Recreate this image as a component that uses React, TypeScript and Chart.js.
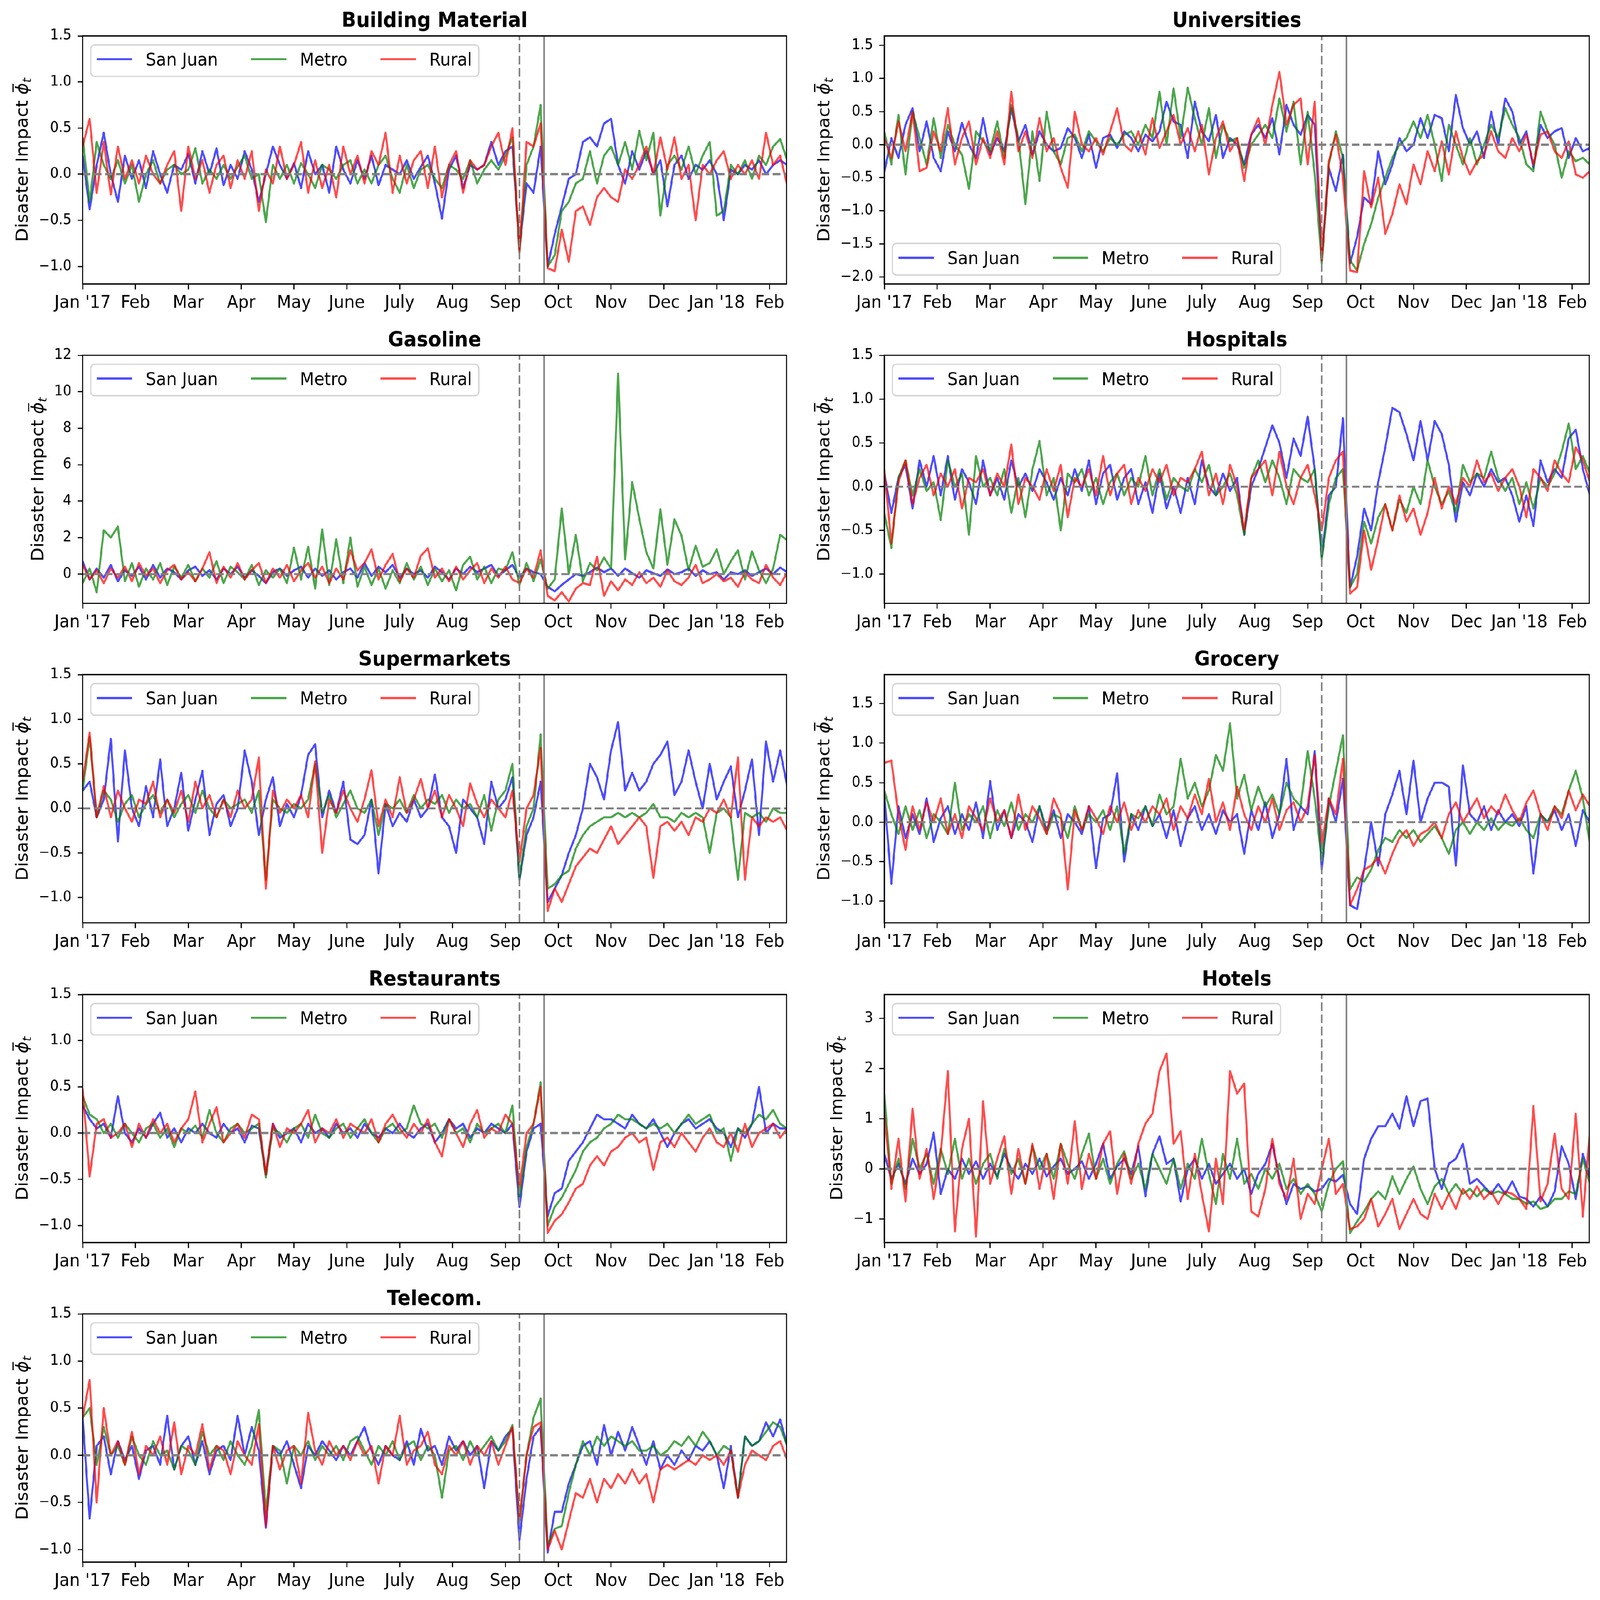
import { useEffect, useRef } from "react";
import Chart from "chart.js/auto";

// days since 1 Jan 2017, one sample every 4 days
const days = Array.from({ length: 101 }, (_, i) => i * 4);

const xTickDays = [0, 30, 60, 90, 120, 150, 180, 210, 240, 270, 300, 330, 360, 390];
const xTickLabels = ["Jan '17", "Feb", "Mar", "Apr", "May", "June", "July", "Aug", "Sep", "Oct", "Nov", "Dec", "Jan '18", "Feb"];
const irmaDay = 248;
const mariaDay = 262;

const seriesNames = ["San Juan", "Metro", "Rural"];

const buildingSanJuan = [
  0.2, -0.38, 0.1, 0.45, 0.0, -0.3, 0.2, -0.05, 0.15, -0.15,
  0.25, 0.0, -0.2, 0.1, 0.05, 0.22, -0.1, 0.25, 0.0, 0.28,
  -0.12, 0.1, -0.05, 0.25, 0.05, -0.3, 0.0, 0.3, 0.1, -0.05,
  0.12, -0.15, 0.25, 0.0, 0.1, -0.2, 0.3, 0.05, -0.1, 0.15,
  -0.05, 0.2, -0.12, 0.1, 0.05, 0.0, 0.15, -0.05, 0.08, 0.2,
  -0.1, -0.48, 0.05, 0.2, -0.15, 0.1, 0.05, 0.1, 0.35, 0.1,
  0.25, 0.3, -0.8, -0.1, -0.2, 0.3, -1.0, -0.65, -0.35, -0.05,
  0.0, 0.35, 0.4, 0.3, 0.55, 0.6, 0.1, -0.1, 0.25, 0.05,
  0.25, 0.0, 0.15, -0.35, 0.1, 0.2, -0.05, 0.1, 0.05, 0.15,
  0.0, -0.5, 0.05, 0.0, 0.1, 0.05, 0.15, 0.0, 0.1, 0.15,
  0.1,
];
const buildingMetro = [
  0.4, -0.3, 0.35, 0.1, -0.05, 0.15, -0.1, 0.1, -0.3, 0.0,
  0.15, -0.1, 0.05, 0.1, 0.0, 0.05, 0.28, -0.1, 0.05, -0.05,
  0.1, -0.05, 0.08, 0.2, -0.05, 0.0, -0.52, 0.1, -0.05, 0.1,
  -0.1, 0.12, 0.0, -0.15, 0.1, 0.05, -0.05, 0.1, 0.15, -0.1,
  0.05, -0.1, 0.1, 0.2, -0.05, -0.2, 0.1, -0.15, 0.05, 0.1,
  -0.05, -0.15, 0.1, 0.05, -0.05, 0.15, -0.1, 0.05, 0.15, 0.05,
  0.2, 0.4, -0.85, 0.1, 0.3, 0.75, -1.0, -0.88, -0.4, -0.3,
  -0.1, -0.05, 0.25, -0.1, 0.2, 0.3, 0.1, 0.35, 0.05, 0.47,
  0.15, 0.45, -0.45, 0.1, 0.2, 0.05, 0.3, 0.0, 0.2, 0.35,
  -0.45, -0.4, 0.1, 0.0, 0.15, -0.05, 0.2, 0.1, 0.3, 0.38,
  0.15,
];
const buildingRural = [
  0.3, 0.6, -0.2, 0.35, -0.22, 0.3, -0.05, 0.15, -0.1, 0.2,
  0.0, -0.1, 0.1, 0.25, -0.4, 0.3, -0.05, 0.15, -0.2, 0.1,
  0.2, -0.15, 0.15, -0.05, 0.25, -0.4, 0.05, -0.1, 0.3, -0.05,
  0.1, 0.35, -0.2, 0.15, -0.15, 0.1, -0.25, 0.3, 0.0, 0.2,
  -0.1, 0.25, 0.1, 0.45, -0.2, 0.2, -0.1, 0.15, 0.25, -0.15,
  0.3, -0.25, 0.1, 0.25, -0.2, 0.15, 0.05, 0.1, 0.3, 0.45,
  0.1, 0.5, -0.85, 0.35, 0.3, 0.55, -1.02, -1.05, -0.6, -0.95,
  -0.4, -0.35, -0.55, -0.25, -0.15, -0.25, -0.3, 0.05, -0.05, 0.1,
  0.3, 0.0, 0.4, 0.05, 0.4, -0.05, 0.1, -0.5, 0.1, 0.0,
  0.15, 0.25, -0.05, 0.1, 0.0, 0.15, -0.05, 0.45, 0.1, 0.2,
  -0.12,
];

const universitiesSanJuan = [
  -0.42, 0.1, -0.2, 0.3, 0.55, -0.1, 0.35, -0.2, -0.4, 0.2,
  -0.1, 0.33, 0.0, -0.2, 0.4, -0.15, 0.1, -0.1, 0.55, 0.05,
  0.3, -0.15, 0.2, 0.0, -0.1, -0.05, 0.25, 0.1, -0.2, 0.15,
  -0.35, 0.1, 0.15, -0.05, 0.2, 0.1, -0.1, 0.15, 0.05, 0.2,
  0.65, 0.35, 0.3, -0.2, 0.65, 0.2, 0.05, 0.45, -0.2, 0.1,
  0.0, -0.3, 0.15, 0.3, 0.1, 0.4, -0.15, 0.6, 0.3, 0.15,
  0.45, 0.3, -1.75, -0.35, -0.7, -0.15, -1.8, -1.4, -0.8, -0.9,
  -0.1, -0.6, -0.3, 0.1, -0.1, 0.0, 0.4, 0.1, 0.45, 0.4,
  -0.1, 0.75, 0.25, 0.0, 0.2, -0.2, 0.5, 0.0, 0.7, 0.5,
  0.0, 0.2, -0.35, 0.3, 0.1, 0.2, 0.25, -0.2, 0.1, -0.1,
  -0.05,
];
const universitiesMetro = [
  0.2, -0.3, 0.45, -0.45, 0.5, 0.1, -0.3, 0.4, -0.2, 0.3,
  0.0, -0.15, -0.67, 0.2, 0.05, -0.1, 0.35, -0.2, 0.6, 0.1,
  -0.9, 0.2, -0.55, 0.5, -0.1, -0.3, 0.1, 0.15, -0.1, 0.2,
  0.05, -0.1, 0.1, 0.0, 0.15, 0.2, 0.0, 0.3, 0.1, 0.8,
  0.0, 0.85, 0.1, 0.86, 0.4, 0.0, 0.55, -0.2, 0.3, 0.05,
  0.1, -0.35, 0.0, 0.15, 0.3, 0.1, 0.7, 0.2, 0.65, -0.3,
  0.5, -0.45, -1.8, -0.3, 0.2, -0.2, -1.75, -1.9, -1.5, -1.2,
  -0.8, -0.5, -0.2, 0.0, 0.1, 0.35, 0.1, 0.45, 0.0, -0.55,
  0.3, 0.0, -0.3, 0.1, -0.3, 0.0, 0.3, 0.1, 0.55, 0.3,
  0.1, -0.3, -0.4, 0.5, 0.2, 0.0, -0.5, -0.1, -0.25, -0.2,
  -0.3,
];
const universitiesRural = [
  0.1, -0.2, 0.35, -0.1, 0.5, -0.4, -0.35, 0.2, -0.1, 0.55,
  -0.3, 0.1, 0.35, -0.3, 0.1, -0.2, 0.2, -0.3, 0.8, -0.1,
  0.2, -0.2, 0.4, -0.1, 0.1, -0.35, -0.65, 0.5, 0.0, -0.1,
  0.1, -0.15, 0.2, 0.55, 0.0, -0.1, 0.2, -0.15, 0.4, -0.05,
  0.2, 0.45, 0.0, 0.25, -0.1, 0.3, -0.45, 0.1, 0.35, -0.1,
  0.1, -0.55, 0.15, 0.4, 0.0, 0.6, 1.1, 0.3, 0.6, 0.7,
  -0.3, 0.65, -1.75, -0.25, 0.15, -0.5, -1.9, -1.93, -0.4, -0.95,
  -0.5, -1.35, -1.05, -0.6, -0.9, -0.3, -0.6, -0.1, -0.4, 0.05,
  -0.45, 0.2, -0.2, -0.45, -0.25, -0.15, 0.2, -0.1, -0.2, 0.1,
  -0.1, 0.15, -0.3, 0.15, 0.2, -0.1, -0.2, 0.05, -0.45, -0.5,
  -0.4,
];

const gasolineSanJuan = [
  0.7, -0.3, 0.3, -0.2, 0.5, -0.4, 0.2, -0.1, 0.4, -0.3,
  0.5, -0.2, 0.3, 0.1, -0.3, 0.2, 0.4, -0.1, 0.2, -0.3,
  0.3, 0.0, 0.4, -0.2, 0.2, -0.1, -0.5, 0.1, 0.3, -0.1,
  0.2, 0.4, -0.2, 0.3, -0.1, 0.2, -0.3, 0.1, 0.3, -0.2,
  0.6, -0.1, 0.4, 0.1, 0.5, -0.2, 0.3, 0.0, 0.2, -0.2,
  0.4, 0.1, -0.3, 0.3, 0.0, 0.4, 0.1, 0.3, 0.5, -0.1,
  0.2, 0.5, -0.2, 0.3, 0.1, 0.0, -0.7, -0.95, -0.6, -0.3,
  0.0, -0.1, 0.1, 0.35, 0.1, 0.3, -0.1, 0.3, 0.05, -0.2,
  0.2, 0.05, -0.1, 0.25, 0.0, 0.1, 0.3, -0.1, 0.2, 0.0,
  0.1, -0.3, 0.1, 0.0, 0.2, -0.1, 0.1, 0.3, 0.0, 0.35,
  0.1,
];
const gasolineMetro = [
  -0.5, 0.3, -1.0, 2.4, 2.0, 2.6, -0.4, 0.6, -0.7, 0.3,
  -0.3, 0.6, -0.6, 0.4, -0.2, 0.5, -0.4, 0.3, -0.2, 0.7,
  -0.5, 0.4, 0.1, -0.3, 0.5, -0.6, 0.2, -0.2, 0.3, -0.5,
  1.45, -0.3, 1.5, -0.8, 2.45, -0.6, 1.9, -0.5, 2.0, -0.7,
  0.4, -0.6, 0.3, -0.8, 0.2, -0.5, 0.6, -0.3, 0.4, -0.6,
  0.3, -0.4, 0.2, -0.9, 0.5, 0.95, -0.3, 0.4, -0.5, 0.3,
  0.2, 1.2, -0.6, 0.6, -0.4, 0.8, -0.8, -0.3, 3.6, 0.0,
  2.15, -0.4, 0.6, 0.2, 0.9, 0.3, 11.0, 0.8, 5.05, 3.05,
  1.2, 0.3, 3.55, 0.5, 3.0, 2.1, 0.2, 1.55, 0.4, 0.6,
  1.35, 0.0, 0.7, 1.3, -0.3, 1.25, 0.2, -0.5, 0.3, 2.15,
  1.85,
];
const gasolineRural = [
  0.5, -0.3, 0.2, -0.5, 0.3, -0.2, 0.4, -0.4, 0.6, -0.1,
  0.3, -0.5, 0.2, 0.5, -0.3, 0.1, -0.4, 0.3, 1.2, -0.5,
  0.4, -0.2, 0.6, -0.3, 0.2, 0.6, -0.5, 0.3, -0.2, 0.5,
  -0.4, 0.2, 0.6, -0.2, 0.4, -0.5, 0.3, -0.3, 1.3, 0.2,
  0.6, 1.35, -0.3, 0.5, 1.1, -0.4, 0.3, -0.2, 1.0, 1.4,
  -0.2, 0.3, -0.4, 0.4, -0.3, 0.2, 0.6, -0.5, 0.3, -0.2,
  0.4, -0.3, -0.5, 0.3, -0.2, 1.3, -1.2, -1.45, -1.0, -1.5,
  -0.8, -0.5, -0.6, 0.95, -1.2, -0.4, -0.9, -0.3, -0.6, 0.1,
  -0.5, -0.2, -0.7, 0.2, -0.4, -0.6, -0.2, 0.5, -0.5, -0.3,
  0.0, -0.4, -0.2, -0.7, 0.1, -0.3, -0.5, 0.5, -0.2, -0.6,
  0.1,
];

const hospitalsSanJuan = [
  0.15, -0.3, 0.1, 0.25, -0.25, 0.3, 0.0, 0.35, -0.1, 0.35,
  -0.15, 0.2, 0.05, -0.2, 0.3, -0.1, 0.1, -0.15, 0.3, 0.0,
  0.15, -0.05, 0.2, 0.05, -0.15, 0.1, -0.1, 0.2, -0.05, 0.3,
  -0.2, 0.15, 0.25, -0.15, 0.1, 0.2, -0.2, 0.05, -0.3, 0.15,
  -0.25, 0.0, -0.3, 0.1, -0.2, 0.3, 0.0, -0.1, 0.15, -0.05,
  0.1, -0.55, 0.0, 0.2, 0.45, 0.7, 0.5, 0.1, 0.55, 0.35,
  0.8, 0.2, -0.8, -0.1, 0.0, 0.78, -1.15, -0.8, -0.25, -0.5,
  0.05, 0.45, 0.9, 0.85, 0.6, 0.3, 0.75, 0.3, 0.75, 0.6,
  0.25, -0.4, 0.05, -0.1, 0.15, 0.0, 0.2, 0.05, 0.1, -0.1,
  -0.4, -0.1, -0.45, 0.3, 0.05, 0.2, 0.1, 0.55, 0.65, 0.2,
  -0.1,
];
const hospitalsMetro = [
  -0.3, -0.7, 0.1, 0.3, -0.1, 0.2, -0.05, 0.05, -0.38, 0.3,
  0.0, 0.15, -0.55, 0.35, 0.0, 0.1, -0.1, 0.2, -0.3, 0.1,
  -0.35, 0.2, 0.52, -0.1, 0.1, -0.5, 0.15, 0.05, 0.2, -0.1,
  0.1, -0.2, 0.05, 0.15, -0.1, 0.1, 0.0, 0.35, -0.1, 0.2,
  -0.15, 0.1, 0.0, -0.05, 0.2, 0.05, 0.25, -0.1, 0.0, 0.15,
  -0.1, -0.55, 0.1, 0.3, 0.05, 0.3, 0.1, -0.2, 0.2, 0.1,
  0.05, 0.2, -0.83, -0.2, 0.1, 0.2, -1.15, -1.0, -0.4, -0.65,
  -0.35, -0.2, -0.5, -0.15, -0.3, 0.0, -0.2, 0.3, 0.0, -0.2,
  -0.05, -0.3, 0.25, 0.05, 0.15, 0.1, 0.4, 0.1, -0.05, 0.1,
  -0.2, 0.05, -0.25, 0.1, 0.0, 0.15, 0.4, 0.72, 0.2, 0.35,
  0.15,
];
const hospitalsRural = [
  0.2, -0.65, 0.05, 0.3, -0.2, 0.1, 0.25, -0.1, 0.15, 0.0,
  0.2, -0.25, 0.1, 0.05, 0.2, -0.1, 0.15, 0.0, 0.48, -0.2,
  0.1, 0.0, -0.15, 0.2, -0.05, 0.25, -0.35, 0.1, 0.0, 0.2,
  -0.1, 0.35, -0.1, 0.15, 0.25, -0.2, 0.1, -0.05, 0.2, 0.05,
  0.25, -0.1, 0.1, 0.05, 0.2, 0.4, -0.1, 0.15, -0.2, 0.25,
  0.0, -0.5, 0.1, 0.2, 0.3, -0.1, 0.4, 0.0, -0.2, 0.1,
  0.25, -0.1, -0.5, 0.1, 0.3, 0.4, -1.22, -1.15, -0.5, -0.95,
  -0.6, -0.2, -0.5, -0.1, -0.4, -0.25, -0.55, -0.3, 0.1, -0.25,
  0.0, -0.2, 0.1, 0.0, 0.3, 0.05, 0.15, -0.05, 0.1, 0.2,
  0.0, -0.35, 0.2, 0.1, -0.05, 0.3, 0.15, 0.05, 0.45, 0.3,
  0.05,
];

const supermarketsSanJuan = [
  0.2, 0.3, -0.1, 0.1, 0.78, -0.37, 0.65, 0.0, -0.2, 0.25,
  -0.1, 0.55, -0.2, 0.0, 0.4, -0.25, 0.1, 0.42, -0.3, 0.05,
  0.15, -0.2, 0.0, 0.65, 0.3, -0.3, 0.1, 0.35, -0.2, 0.05,
  -0.1, 0.15, 0.6, 0.72, -0.1, 0.2, -0.05, 0.3, -0.35, -0.4,
  -0.3, 0.1, -0.73, 0.05, -0.2, -0.05, -0.15, 0.1, -0.1, 0.0,
  0.38, -0.1, -0.2, -0.5, 0.1, 0.0, -0.1, -0.4, 0.3, 0.0,
  0.1, 0.35, -0.8, -0.3, -0.1, 0.3, -1.05, -0.9, -0.75, -0.5,
  -0.3, 0.0, 0.5, 0.35, 0.1, 0.65, 0.97, 0.2, 0.4, 0.2,
  0.3, 0.5, 0.6, 0.75, 0.15, 0.3, 0.65, 0.3, 0.0, 0.5,
  0.1, 0.3, 0.47, -0.1, 0.2, 0.55, -0.3, 0.75, 0.3, 0.65,
  0.25,
];
const supermarketsMetro = [
  0.2, 0.8, -0.1, 0.2, 0.1, -0.15, 0.05, 0.15, -0.1, 0.05,
  0.15, -0.05, 0.1, -0.1, 0.05, 0.15, -0.05, 0.2, 0.0, -0.1,
  0.1, 0.0, 0.05, 0.1, -0.05, 0.2, -0.8, 0.1, 0.0, -0.05,
  0.05, 0.0, 0.1, 0.5, -0.05, 0.15, -0.1, 0.05, 0.2, 0.0,
  -0.05, 0.1, -0.3, 0.05, 0.0, 0.1, -0.05, 0.15, 0.0, 0.1,
  0.05, 0.15, -0.05, 0.1, 0.0, 0.05, -0.1, 0.15, -0.25, 0.1,
  0.2, 0.5, -0.8, -0.2, 0.0, 0.83, -0.9, -0.85, -0.75, -0.7,
  -0.45, -0.3, -0.2, -0.15, -0.1, -0.1, -0.05, -0.1, -0.05, -0.1,
  -0.05, 0.05, -0.1, -0.1, -0.15, -0.05, -0.1, -0.05, -0.1, -0.5,
  -0.05, 0.0, -0.1, -0.8, -0.05, -0.1, -0.05, -0.15, 0.0, -0.05,
  -0.05,
];
const supermarketsRural = [
  0.3, 0.85, -0.1, 0.25, -0.1, 0.2, 0.0, -0.15, 0.1, 0.05,
  0.3, -0.1, 0.1, -0.05, 0.2, -0.15, 0.3, 0.0, 0.15, -0.1,
  0.1, -0.1, 0.2, 0.0, 0.1, 0.57, -0.9, 0.2, -0.05, 0.1,
  0.0, 0.15, -0.1, 0.53, -0.5, 0.1, -0.05, 0.2, 0.0, -0.15,
  0.1, 0.43, -0.2, 0.1, -0.1, 0.35, -0.05, 0.1, 0.33, 0.0,
  0.2, -0.1, 0.15, 0.0, -0.2, 0.28, 0.05, -0.1, 0.1, 0.0,
  -0.1, 0.2, -0.6, 0.0, 0.15, 0.68, -1.15, -0.9, -1.05, -0.85,
  -0.65, -0.55, -0.45, -0.5, -0.35, -0.2, -0.4, -0.3, -0.2, -0.1,
  -0.2, -0.78, -0.2, -0.15, -0.25, -0.15, -0.3, -0.1, -0.15, 0.0,
  -0.05, 0.1, -0.1, 0.57, -0.8, -0.1, -0.2, -0.1, -0.15, -0.1,
  -0.25,
];

const grocerySanJuan = [
  0.35, -0.78, 0.2, -0.2, 0.1, -0.15, 0.3, -0.25, 0.05, 0.2,
  -0.15, 0.1, -0.1, 0.25, -0.2, 0.52, -0.1, 0.15, -0.2, 0.1,
  0.0, -0.25, 0.2, -0.1, 0.15, -0.2, 0.1, 0.0, -0.15, 0.2,
  -0.58, 0.05, 0.1, 0.62, -0.5, 0.1, -0.1, 0.2, -0.05, 0.1,
  -0.2, 0.15, -0.3, 0.05, 0.2, -0.1, 0.1, -0.15, 0.15, 0.0,
  0.1, -0.4, 0.15, -0.1, 0.25, -0.2, 0.1, 0.8, -0.1, 0.2,
  0.1, 0.9, -0.6, 0.3, 0.0, 0.55, -1.05, -1.1, -0.6, 0.0,
  -0.55, 0.1, 0.35, 0.65, 0.1, 0.78, 0.0, 0.3, 0.5, 0.5,
  0.45, -0.55, 0.72, 0.1, 0.0, 0.2, -0.1, 0.15, 0.0, 0.1,
  -0.05, 0.2, -0.65, 0.1, 0.0, 0.15, -0.1, 0.1, -0.3, 0.15,
  0.0,
];
const groceryMetro = [
  0.4, 0.1, -0.15, 0.2, -0.1, 0.15, -0.2, 0.1, 0.0, -0.15,
  0.5, -0.1, 0.1, 0.0, 0.2, -0.2, 0.15, -0.05, 0.25, -0.1,
  0.1, 0.0, 0.2, -0.15, 0.1, 0.05, -0.2, 0.2, -0.1, 0.1,
  0.0, 0.15, -0.1, 0.2, -0.4, 0.1, 0.05, 0.2, -0.05, 0.35,
  0.1, 0.2, 0.8, 0.3, 0.5, 0.2, 0.4, 0.85, 0.65, 1.25,
  0.3, 0.6, 0.15, 0.45, 0.2, 0.35, 0.1, 0.5, 0.3, 0.2,
  0.9, 0.3, -0.5, 0.2, 0.65, 1.1, -0.85, -0.7, -0.75, -0.6,
  -0.35, -0.2, -0.25, -0.1, -0.2, -0.1, -0.25, -0.15, -0.05, -0.2,
  -0.4, -0.1, 0.0, -0.15, 0.0, -0.1, 0.05, -0.1, 0.0, -0.05,
  0.05, -0.1, -0.2, 0.1, 0.0, 0.2, 0.1, 0.4, 0.65, 0.3,
  -0.27,
];
const groceryRural = [
  0.75, 0.78, 0.1, -0.35, 0.2, -0.1, 0.25, 0.0, 0.3, -0.15,
  0.1, -0.2, 0.2, 0.05, -0.1, 0.3, 0.0, 0.15, -0.2, 0.35,
  -0.1, 0.2, 0.05, -0.15, 0.3, 0.1, -0.85, 0.15, -0.1, 0.2,
  0.05, -0.15, 0.2, 0.0, 0.25, -0.1, 0.15, 0.0, 0.2, 0.1,
  0.3, -0.1, 0.2, 0.05, 0.35, 0.1, 0.55, 0.0, 0.25, -0.1,
  0.45, 0.1, -0.1, 0.2, 0.0, 0.3, -0.1, 0.15, 0.25, 0.0,
  0.2, 0.85, -0.3, 0.3, 0.1, 0.8, -1.05, -0.85, -0.6, -0.55,
  -0.45, -0.65, -0.4, -0.2, -0.1, -0.3, -0.15, -0.1, 0.0, -0.2,
  0.1, 0.25, 0.0, 0.15, 0.3, 0.05, 0.2, 0.1, 0.35, 0.15,
  0.0, 0.25, 0.4, 0.1, -0.1, 0.2, 0.05, 0.4, 0.15, 0.35,
  0.2,
];

const restaurantsSanJuan = [
  0.3, 0.15, 0.05, 0.1, -0.05, 0.4, 0.0, -0.1, 0.05, -0.05,
  0.1, 0.22, -0.05, 0.05, -0.1, 0.05, 0.0, 0.1, 0.0, -0.05,
  0.1, 0.0, 0.05, -0.1, 0.08, 0.05, -0.45, 0.1, -0.05, 0.0,
  0.05, -0.1, 0.1, 0.0, 0.05, -0.05, 0.1, 0.0, 0.05, -0.05,
  0.1, 0.0, -0.05, 0.05, 0.0, 0.1, 0.0, -0.05, 0.05, 0.1,
  -0.1, 0.0, 0.15, 0.05, 0.1, -0.05, 0.05, 0.0, 0.1, 0.05,
  0.0, 0.1, -0.8, -0.2, 0.05, 0.1, -0.9, -0.65, -0.6, -0.3,
  -0.2, -0.1, 0.05, 0.2, 0.15, 0.15, 0.1, 0.05, 0.2, 0.1,
  0.05, 0.15, 0.0, -0.15, 0.0, 0.1, 0.15, 0.05, 0.1, 0.15,
  0.05, 0.0, -0.15, 0.05, -0.05, 0.1, 0.5, 0.0, 0.1, 0.05,
  0.05,
];
const restaurantsMetro = [
  0.4, 0.2, 0.15, 0.0, 0.1, -0.05, 0.1, 0.0, -0.1, 0.05,
  0.1, -0.05, 0.05, -0.15, 0.05, 0.0, 0.08, -0.05, 0.25, 0.0,
  -0.1, 0.05, 0.1, 0.0, 0.05, 0.1, -0.48, 0.05, 0.0, -0.1,
  0.05, 0.1, -0.05, 0.2, 0.0, -0.05, 0.05, 0.1, -0.05, 0.05,
  0.15, 0.0, -0.1, 0.05, 0.1, 0.0, 0.05, 0.3, 0.1, 0.05,
  0.1, -0.05, 0.15, 0.0, 0.05, -0.1, 0.1, 0.0, 0.05, 0.1,
  0.0, 0.3, -0.7, -0.15, 0.1, 0.55, -1.0, -0.8, -0.7, -0.55,
  -0.4, -0.2, -0.1, -0.05, 0.05, 0.1, 0.2, 0.15, 0.15, 0.1,
  0.05, 0.1, 0.05, 0.1, 0.0, 0.1, 0.2, 0.1, 0.15, 0.2,
  0.0, 0.05, -0.3, 0.05, 0.0, 0.1, 0.2, 0.15, 0.25, 0.1,
  0.05,
];
const restaurantsRural = [
  0.48, -0.47, 0.1, 0.15, -0.05, 0.0, 0.1, -0.15, 0.1, -0.05,
  0.15, 0.0, 0.1, -0.1, 0.05, 0.15, 0.45, -0.1, 0.1, 0.28,
  -0.1, 0.0, 0.1, -0.05, 0.2, 0.15, -0.45, 0.1, -0.15, 0.05,
  0.0, 0.1, 0.25, -0.1, 0.05, 0.0, 0.15, -0.05, 0.1, 0.05,
  0.0, 0.15, -0.1, 0.1, 0.2, 0.05, -0.05, 0.1, 0.0, 0.15,
  -0.1, -0.25, 0.15, 0.0, -0.15, 0.1, 0.25, -0.05, 0.05, 0.0,
  0.2, 0.1, -0.6, 0.0, 0.1, 0.5, -1.08, -0.95, -0.88, -0.75,
  -0.6, -0.55, -0.35, -0.25, -0.35, -0.2, -0.15, -0.05, 0.0, -0.1,
  -0.05, -0.4, -0.1, -0.05, -0.15, 0.0, -0.1, -0.2, -0.05, 0.05,
  -0.1, -0.15, 0.0, -0.2, 0.1, -0.15, 0.0, 0.05, 0.1, -0.05,
  0.05,
];

const hotelsSanJuan = [
  0.3, -0.2, 0.1, -0.3, 0.2, -0.1, 0.1, 0.72, -0.5, 0.0,
  -0.2, 0.2, -0.1, 0.15, -0.2, 0.1, -0.15, 0.3, 0.0, -0.2,
  0.1, -0.1, 0.2, -0.15, 0.05, 0.2, -0.1, 0.0, 0.15, -0.2,
  0.1, 0.5, -0.2, 0.05, 0.2, -0.1, 0.45, -0.55, 0.3, 0.65,
  0.1, 0.2, -0.65, 0.0, 0.2, -0.2, 0.1, -0.3, -0.1, 0.1,
  -0.2, 0.0, -0.5, -0.1, 0.1, 0.5, -0.2, -0.7, -0.3, -0.4,
  -0.35, -0.45, -0.4, -0.2, -0.25, -0.12, -0.7, -0.9, 0.2, 0.6,
  0.85, 0.85, 1.1, 0.8, 1.45, 0.85, 1.35, 1.4, 0.0, -0.4,
  0.1, 0.2, 0.5, -0.3, -0.2, -0.35, -0.5, -0.3, -0.5, -0.25,
  -0.55, -0.6, -0.75, -0.55, -0.75, -0.45, 0.45, 0.1, -0.6, 0.3,
  -0.2,
];
const hotelsMetro = [
  1.5, -0.3, 0.2, -0.4, 0.6, 0.0, 0.3, -0.3, 0.4, -0.1,
  0.6, -0.2, 0.2, -0.3, 0.1, 0.3, -0.2, 0.4, -0.1, 0.2,
  -0.3, 0.45, 0.0, 0.3, -0.2, 0.5, 0.1, -0.2, 0.3, 0.7,
  -0.2, 0.2, -0.3, 0.1, 0.35, -0.2, 0.1, -0.4, 0.3, 0.0,
  -0.3, 0.2, -0.4, 0.1, -0.2, 0.6, -0.1, -0.7, 0.3, -0.2,
  0.6, -0.3, -0.1, -0.4, 0.0, -0.2, 0.1, -0.4, -0.2, -0.5,
  -0.3, -0.5, -0.85, -0.3, 0.0, 0.15, -1.28, -1.05, -0.85, -0.6,
  -0.45, -0.6, -0.15, -0.5, -0.2, 0.05, -0.4, -0.7, -0.35, -0.2,
  -0.5, -0.3, -0.5, -0.4, -0.55, -0.4, -0.5, -0.45, -0.5, -0.6,
  -0.6, -0.7, -0.65, -0.8, -0.75, -0.6, -0.6, -0.45, -0.5, 0.2,
  -0.3,
];
const hotelsRural = [
  1.15, -0.4, 0.6, -0.65, 1.2, -0.2, 0.4, -0.6, 0.3, 1.95,
  -1.25, 0.4, 1.0, -1.35, 1.35, -0.3, 0.2, 0.65, -0.5, 0.4,
  -0.3, 0.5, -0.4, 0.3, -0.6, 0.5, -0.3, 0.95, -0.4, 0.3,
  -0.2, 0.5, 0.75, -0.5, 0.3, -0.3, 0.5, 0.9, 1.1, 1.95,
  2.3, 0.5, 0.75, -0.6, 0.3, -0.5, -1.25, 0.2, -0.7, 1.95,
  1.5, 1.7, -0.85, -0.95, -0.4, 0.6, -0.3, -0.6, 0.2, -1.0,
  -0.5, -0.7, 0.0, 0.6, -0.5, -0.3, -1.2, -1.15, -1.0, -0.6,
  -1.15, -0.9, -0.6, -1.2, -0.9, -0.6, -0.9, -1.0, -0.5, -0.8,
  -0.5, -0.8, -0.4, -0.6, -0.35, -0.6, -0.45, -0.7, -0.45, -0.5,
  -0.6, -0.8, 1.25, -0.65, -0.3, 0.7, -0.4, -0.6, 1.1, -0.95,
  0.75,
];

const telecomSanJuan = [
  0.4, -0.67, 0.1, 0.2, -0.2, 0.15, -0.05, 0.1, -0.25, 0.05,
  0.1, -0.1, 0.42, -0.15, 0.1, 0.2, -0.1, 0.15, -0.2, 0.05,
  0.1, -0.05, 0.42, 0.0, 0.3, 0.05, -0.77, 0.1, 0.0, 0.15,
  -0.1, -0.35, 0.1, 0.0, 0.15, 0.05, -0.05, 0.1, 0.0, 0.15,
  0.3, 0.05, -0.1, 0.1, 0.0, -0.05, 0.15, -0.1, 0.28, 0.05,
  0.1, -0.1, 0.2, 0.05, 0.15, 0.0, 0.1, -0.35, 0.15, 0.05,
  0.2, 0.28, -0.9, -0.25, 0.2, 0.3, -1.03, -0.6, -0.6, -0.3,
  -0.1, 0.1, 0.15, -0.1, 0.32, 0.0, 0.25, 0.05, 0.3, 0.1,
  -0.1, 0.15, -0.15, 0.0, -0.1, 0.05, -0.05, 0.1, 0.05, 0.15,
  0.0, -0.35, 0.1, -0.45, 0.2, 0.1, 0.15, 0.35, 0.2, 0.38,
  0.1,
];
const telecomMetro = [
  0.4, 0.5, -0.1, 0.3, 0.0, 0.1, -0.1, 0.2, 0.0, -0.1,
  0.15, 0.0, 0.05, -0.15, 0.1, 0.05, -0.1, 0.25, 0.0, 0.1,
  -0.05, 0.15, 0.0, -0.1, 0.1, 0.48, -0.6, 0.1, 0.05, -0.3,
  0.1, 0.0, 0.15, -0.05, 0.1, 0.0, 0.1, -0.05, 0.15, 0.2,
  0.05, -0.1, 0.1, 0.0, 0.15, -0.05, 0.1, 0.15, -0.05, 0.1,
  0.0, -0.45, 0.05, 0.1, -0.05, 0.15, 0.0, 0.1, 0.2, 0.05,
  0.15, 0.32, -0.7, 0.0, 0.4, 0.6, -0.95, -0.78, -0.75, -0.4,
  -0.1, 0.15, 0.0, 0.2, 0.1, 0.2, 0.15, 0.1, 0.15, 0.05,
  0.05, 0.1, 0.0, 0.05, 0.15, 0.1, 0.2, 0.1, 0.25, 0.15,
  0.0, 0.1, 0.05, -0.45, 0.2, 0.1, 0.15, 0.25, 0.35, 0.3,
  0.1,
];
const telecomRural = [
  0.4, 0.8, -0.5, 0.5, 0.0, 0.15, -0.1, 0.25, -0.2, 0.1,
  0.0, 0.2, -0.1, 0.35, -0.2, 0.1, 0.0, 0.33, -0.15, 0.1,
  0.05, -0.2, 0.15, 0.0, -0.1, 0.33, -0.75, 0.1, -0.15, 0.05,
  0.1, -0.3, 0.45, 0.05, -0.1, 0.15, 0.0, 0.1, -0.05, 0.15,
  0.0, 0.1, -0.3, 0.1, 0.0, 0.42, -0.1, 0.05, 0.1, 0.25,
  -0.1, -0.2, 0.1, 0.0, 0.15, -0.1, 0.1, 0.0, 0.15, -0.1,
  0.1, 0.3, -0.7, 0.0, 0.3, 0.35, -1.0, -0.8, -1.0, -0.7,
  -0.4, -0.45, -0.25, -0.5, -0.25, -0.35, -0.2, -0.3, -0.15, -0.3,
  -0.2, -0.5, -0.15, -0.1, -0.15, -0.1, -0.05, -0.1, 0.0, -0.05,
  0.0, -0.1, 0.05, -0.45, -0.1, 0.05, 0.0, -0.05, 0.1, 0.15,
  -0.05,
];

const halfTicks = [-1.0, -0.5, 0.0, 0.5, 1.0, 1.5];
const universitiesTicks = [-2.0, -1.5, -1.0, -0.5, 0.0, 0.5, 1.0, 1.5];
const gasolineTicks = [0, 2, 4, 6, 8, 10, 12];
const hotelsTicks = [-1, 0, 1, 2, 3];

const panels = [
  { title: "Building Material", col: 0, row: 0, yMin: -1.19, yMax: 1.5, yTicks: halfTicks, dec: 1, legend: "top", series: [buildingSanJuan, buildingMetro, buildingRural] },
  { title: "Universities", col: 1, row: 0, yMin: -2.106, yMax: 1.645, yTicks: universitiesTicks, dec: 1, legend: "bottom", series: [universitiesSanJuan, universitiesMetro, universitiesRural] },
  { title: "Gasoline", col: 0, row: 1, yMin: -1.61, yMax: 12, yTicks: gasolineTicks, dec: 0, legend: "top", series: [gasolineSanJuan, gasolineMetro, gasolineRural] },
  { title: "Hospitals", col: 1, row: 1, yMin: -1.333, yMax: 1.5, yTicks: halfTicks, dec: 1, legend: "top", series: [hospitalsSanJuan, hospitalsMetro, hospitalsRural] },
  { title: "Supermarkets", col: 0, row: 2, yMin: -1.283, yMax: 1.5, yTicks: halfTicks, dec: 1, legend: "top", series: [supermarketsSanJuan, supermarketsMetro, supermarketsRural] },
  { title: "Grocery", col: 1, row: 2, yMin: -1.273, yMax: 1.866, yTicks: halfTicks, dec: 1, legend: "top", series: [grocerySanJuan, groceryMetro, groceryRural] },
  { title: "Restaurants", col: 0, row: 3, yMin: -1.185, yMax: 1.5, yTicks: halfTicks, dec: 1, legend: "top", series: [restaurantsSanJuan, restaurantsMetro, restaurantsRural] },
  { title: "Hotels", col: 1, row: 3, yMin: -1.47, yMax: 3.476, yTicks: hotelsTicks, dec: 0, legend: "top", series: [hotelsSanJuan, hotelsMetro, hotelsRural] },
  { title: "Telecom.", col: 0, row: 4, yMin: -1.132, yMax: 1.5, yTicks: halfTicks, dec: 1, legend: "top", series: [telecomSanJuan, telecomMetro, telecomRural] },
];

// layout in reference pixels
const PAGE_W = 4744;
const PAGE_H = 4463;
const colLeft = [245, 2622];
const colRight = [2332, 4712];
const rowTop = [100, 991, 1882, 2774, 3665];
const plotH = 692;
const padL = 240;
const padT = 100;
const padR = 12;
const padB = 100;

const FONT = "'DejaVu Sans'";
const lineColors = ["rgba(0,0,255,0.7)", "rgba(0,128,0,0.7)", "rgba(255,0,0,0.7)"];
const GRAY = "#808080";
const TICK_LEN = 15;
const Y_TICK_PAD = 18;
const YLABEL_SIZE = 50;

const fmtTick = (v: number, dec: number) => v.toFixed(dec).replace("-", "\u2212");

function decorations(p: any) {
  return {
    id: "decorations",
    afterDatasetsDraw(chart: any) {
      const { ctx, chartArea: a, scales } = chart;
      const xs = scales.x;
      const ys = scales.y;
      ctx.save();

      // zero line
      ctx.strokeStyle = GRAY;
      ctx.lineWidth = 6;
      ctx.setLineDash([23, 10]);
      const y0 = ys.getPixelForValue(0);
      ctx.beginPath();
      ctx.moveTo(a.left, y0);
      ctx.lineTo(a.right, y0);
      ctx.stroke();

      // hurricanes Irma (dashed) and Maria (solid)
      ctx.lineWidth = 5;
      ctx.setLineDash([24, 10]);
      const xi = xs.getPixelForValue(irmaDay);
      ctx.beginPath();
      ctx.moveTo(xi, a.bottom);
      ctx.lineTo(xi, a.top);
      ctx.stroke();
      ctx.setLineDash([]);
      const xm = xs.getPixelForValue(mariaDay);
      ctx.beginPath();
      ctx.moveTo(xm, a.bottom);
      ctx.lineTo(xm, a.top);
      ctx.stroke();

      // legend
      ctx.font = `49px ${FONT}`;
      const widths = seriesNames.map((n) => ctx.measureText(n).width);
      const handle = 105;
      const textPad = 40;
      const colGap = 98;
      const boxW = 18 + widths.reduce((s, w) => s + w, 0) + 3 * (handle + textPad) + 2 * colGap + 20;
      const boxH = 88;
      const bx = a.left + 24;
      const by = p.legend === "top" ? a.top + 25 : a.bottom - 25 - boxH;
      const r = 12;
      ctx.beginPath();
      ctx.moveTo(bx + r, by);
      ctx.lineTo(bx + boxW - r, by);
      ctx.arcTo(bx + boxW, by, bx + boxW, by + r, r);
      ctx.lineTo(bx + boxW, by + boxH - r);
      ctx.arcTo(bx + boxW, by + boxH, bx + boxW - r, by + boxH, r);
      ctx.lineTo(bx + r, by + boxH);
      ctx.arcTo(bx, by + boxH, bx, by + boxH - r, r);
      ctx.lineTo(bx, by + r);
      ctx.arcTo(bx, by, bx + r, by, r);
      ctx.closePath();
      ctx.fillStyle = "rgba(255,255,255,0.8)";
      ctx.fill();
      ctx.strokeStyle = "rgba(204,204,204,0.8)";
      ctx.lineWidth = 4;
      ctx.stroke();
      let cx = bx + 18;
      const hy = by + boxH / 2 - 4;
      ctx.textAlign = "left";
      ctx.textBaseline = "alphabetic";
      seriesNames.forEach((name, i) => {
        ctx.strokeStyle = lineColors[i];
        ctx.lineWidth = 6;
        ctx.lineCap = "butt";
        ctx.beginPath();
        ctx.moveTo(cx, hy);
        ctx.lineTo(cx + handle, hy);
        ctx.stroke();
        ctx.fillStyle = "#000";
        ctx.fillText(name, cx + handle + textPad, hy + 17.5);
        cx += handle + textPad + widths[i] + colGap;
      });

      // frame
      ctx.strokeStyle = "#000";
      ctx.lineWidth = 3.6;
      ctx.strokeRect(a.left, a.top, a.right - a.left, a.bottom - a.top);

      // title
      ctx.fillStyle = "#000";
      ctx.font = `bold 57px ${FONT}`;
      ctx.textAlign = "center";
      ctx.fillText(p.title, (a.left + a.right) / 2, a.top - 25);

      // y label, placed left of the widest tick label
      ctx.font = `40px ${FONT}`;
      const maxTick = Math.max(...p.yTicks.map((v: number) => ctx.measureText(fmtTick(v, p.dec)).width));
      const baseX = a.left - TICK_LEN - Y_TICK_PAD - maxTick - 33;
      ctx.translate(baseX, (a.top + a.bottom) / 2);
      ctx.rotate(-Math.PI / 2);
      ctx.textAlign = "left";
      const main = "Disaster Impact ";
      const sub = Math.round(YLABEL_SIZE * 0.7);
      ctx.font = `${YLABEL_SIZE}px ${FONT}`;
      const w1 = ctx.measureText(main).width;
      ctx.font = `italic ${YLABEL_SIZE}px ${FONT}`;
      const w2 = ctx.measureText("\u03D5").width;
      ctx.font = `italic ${sub}px ${FONT}`;
      const w3 = ctx.measureText("t").width;
      const s = -(w1 + w2 + w3) / 2;
      ctx.font = `${YLABEL_SIZE}px ${FONT}`;
      ctx.fillText(main, s, 0);
      ctx.font = `italic ${YLABEL_SIZE}px ${FONT}`;
      ctx.fillText("\u03D5", s + w1, 0);
      ctx.fillRect(s + w1 + w2 * 0.22, -YLABEL_SIZE * 0.9, w2 * 0.7, 3.5);
      ctx.font = `italic ${sub}px ${FONT}`;
      ctx.fillText("t", s + w1 + w2, 10);

      ctx.restore();
    },
  };
}

function Panel({ p }: { p: any }) {
  const canvasRef = useRef<HTMLCanvasElement | null>(null);
  const plotW = colRight[p.col] - colLeft[p.col];
  const width = plotW + padL + padR;
  const height = plotH + padT + padB;

  useEffect(() => {
    if (!canvasRef.current) return;
    const ctx = canvasRef.current.getContext("2d");
    if (!ctx) return;

    const datasets = p.series.map((values: number[], i: number) => ({
      label: seriesNames[i],
      data: days.map((d, j) => ({ x: d, y: values[j] })),
      borderColor: lineColors[i],
      borderWidth: 6,
      borderJoinStyle: "round",
      pointRadius: 0,
      fill: false,
      tension: 0,
      order: 3 - i,
    }));

    const chart = new Chart(ctx, {
      type: "line",
      data: { datasets },
      options: {
        animation: false,
        responsive: false,
        devicePixelRatio: 1,
        events: [],
        layout: { padding: { top: padT, right: padR, left: 0, bottom: 0 } },
        plugins: {
          legend: { display: false },
          title: { display: false },
          tooltip: { enabled: false },
        },
        scales: {
          x: {
            type: "linear",
            min: 0,
            max: 399.6,
            afterBuildTicks: (scale: any) => {
              scale.ticks = xTickDays.map((v) => ({ value: v }));
            },
            afterFit: (scale: any) => {
              scale.height = padB;
            },
            ticks: {
              callback: (v: any) => xTickLabels[xTickDays.indexOf(v)],
              font: { family: FONT, size: 49 },
              color: "#000",
              padding: 10,
              maxRotation: 0,
              minRotation: 0,
              autoSkip: false,
            },
            grid: { drawOnChartArea: false, drawTicks: true, tickLength: TICK_LEN, tickWidth: 3.3, tickColor: "#000" },
            border: { display: false },
          },
          y: {
            type: "linear",
            min: p.yMin,
            max: p.yMax,
            afterBuildTicks: (scale: any) => {
              scale.ticks = p.yTicks.map((v: number) => ({ value: v }));
            },
            afterFit: (scale: any) => {
              scale.width = padL;
            },
            ticks: {
              callback: (v: any) => fmtTick(Number(v), p.dec),
              font: { family: FONT, size: 40 },
              color: "#000",
              padding: Y_TICK_PAD,
              autoSkip: false,
            },
            grid: { drawOnChartArea: false, drawTicks: true, tickLength: TICK_LEN, tickWidth: 3.3, tickColor: "#000" },
            border: { display: false },
          },
        },
      } as any,
      plugins: [decorations(p)],
    });

    return () => {
      chart.destroy();
    };
  }, [p]);

  return (
    <canvas
      ref={canvasRef}
      width={width}
      height={height}
      style={{
        position: "absolute",
        left: colLeft[p.col] - padL,
        top: rowTop[p.row] - padT,
        width,
        height,
      }}
    ></canvas>
  );
}

export default function App() {
  // the window can be smaller than the reference; stretch the reference-sized layout to fill it
  const kx = window.innerWidth / PAGE_W;
  const ky = window.innerHeight / PAGE_H;
  return (
    <div
      style={{
        position: "absolute",
        left: 0,
        top: 0,
        width: PAGE_W,
        height: PAGE_H,
        background: "#fff",
        transform: `scale(${kx}, ${ky})`,
        transformOrigin: "0 0",
      }}
    >
      {panels.map((p) => (
        <Panel key={p.title} p={p} />
      ))}
    </div>
  );
}
